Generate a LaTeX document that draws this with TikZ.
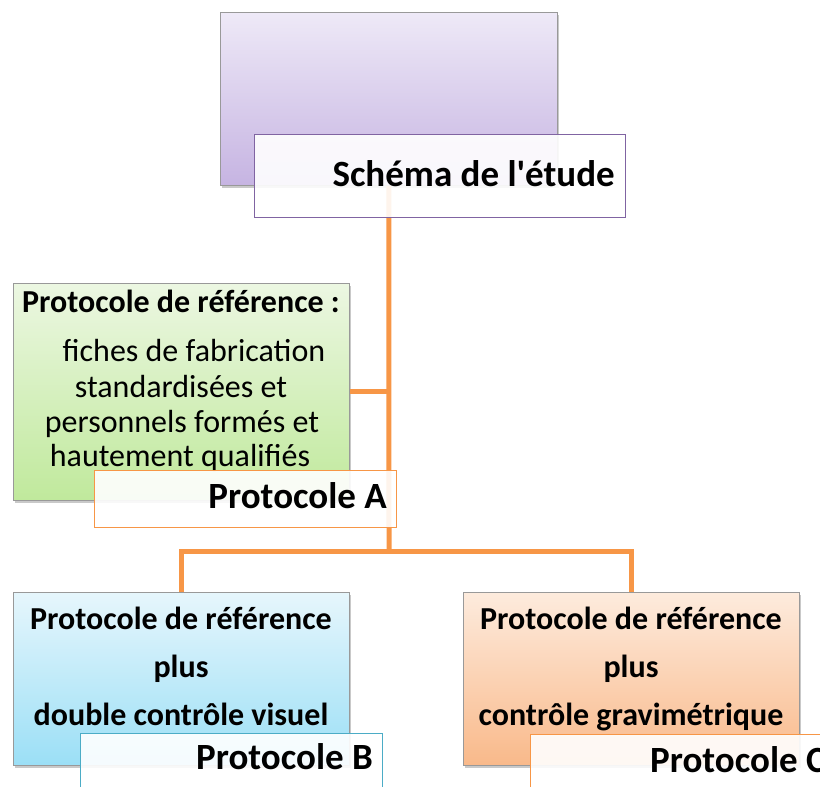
\documentclass[tikz,border=0pt]{standalone}
\usepackage{fontspec}
\setmainfont{Carlito}
\usetikzlibrary{shadows}
\definecolor{conn}{HTML}{F79646}
\definecolor{purpleline}{HTML}{8064A2}
\definecolor{blueline}{HTML}{4BACC6}
\definecolor{pTop}{HTML}{EEE9F7}\definecolor{pBot}{HTML}{C6B4E2}
\definecolor{gTop}{HTML}{ECF7E2}\definecolor{gBot}{HTML}{C0E99C}
\definecolor{bTop}{HTML}{E6F6FC}\definecolor{bBot}{HTML}{9BDFF6}
\definecolor{oTop}{HTML}{FDEBDD}\definecolor{oBot}{HTML}{F9B98A}
\tikzset{
  panel/.style={draw=black!40, line width=0.9pt, anchor=north west, inner sep=0pt,
    drop shadow={shadow xshift=2pt, shadow yshift=-3pt, opacity=0.3, fill=black!70}},
  tag/.style={fill=white, fill opacity=0.9, line width=1.2pt,
    anchor=north west, inner sep=0pt},
  tagtxt/.style={inner sep=0pt, font=\bfseries\fontsize{37}{43}\selectfont},
  link/.style={draw=conn, line width=5pt},
  headtxt/.style={anchor=base, inner sep=0pt, font=\bfseries\fontsize{32}{38}\selectfont},
  bodytxt/.style={anchor=base, inner sep=0pt, font=\fontsize{32}{38}\selectfont}
}
\begin{document}
\begin{tikzpicture}[x=1pt,y=-1pt]
\useasboundingbox (0,0) rectangle (820,787);
\clip (0,0) rectangle (820,787);

% main panels
\node[panel, top color=pTop, bottom color=pBot, minimum width=337pt, minimum height=173pt] (top) at (220,12) {};
\node[panel, top color=gTop, bottom color=gBot, minimum width=336pt, minimum height=217pt] (green) at (13,283) {};
\node[panel, top color=bTop, bottom color=bBot, minimum width=336pt, minimum height=173pt] (blue) at (13,592) {};
\node[panel, top color=oTop, bottom color=oBot, minimum width=336pt, minimum height=173pt] (orange) at (463,592) {};

% connectors
\coordinate (split) at (389,551);
\draw[link] (top.south) -- (split);
\draw[link] (green.east) -- (green.east -| top.south);
\draw[link] (blue.north) |- (split) -| (orange.north);

% panel texts
\node[headtxt] (gh) at (181,312) {Protocole de référence :};
\node[bodytxt] (g1) at (194,361) {fiches de fabrication};
\node[bodytxt] (g2) at (181,397) {standardisées et};
\node[bodytxt] (g3) at (182,432) {personnels formés et};
\node[bodytxt] (g4) at (180,466) {hautement qualifiés};

\node[headtxt] (b1) at (181,629) {Protocole de référence};
\node[headtxt] (b2) at (181,677) {plus};
\node[headtxt] (b3) at (181,725) {double contrôle visuel};

\node[headtxt] (o1) at (631,629) {Protocole de référence};
\node[headtxt] (o2) at (631,677) {plus};
\node[headtxt] (o3) at (631,725) {contrôle gravimétrique};

% title tags
\node[tag, draw=purpleline, minimum width=371pt, minimum height=83pt] (schema) at (254,134) {};
\node[tagtxt, anchor=base east] (schematxt) at (615,186) {Schéma de l\textquotesingle étude};
\node[tag, draw=conn, minimum width=302pt, minimum height=57pt] (pa) at (94,470) {};
\node[tagtxt, anchor=base east] (patxt) at (387,508) {Protocole A};
\node[tag, draw=blueline, minimum width=302pt, minimum height=70pt] (pb) at (80,733) {};
\node[tagtxt, anchor=base east] (pbtxt) at (373,769) {Protocole B};
\node[tag, draw=conn, minimum width=302pt, minimum height=70pt] (pc) at (530,734) {};
\node[tagtxt, anchor=base west] (pctxt) at (650,772) {Protocole C};
\end{tikzpicture}
\end{document}
